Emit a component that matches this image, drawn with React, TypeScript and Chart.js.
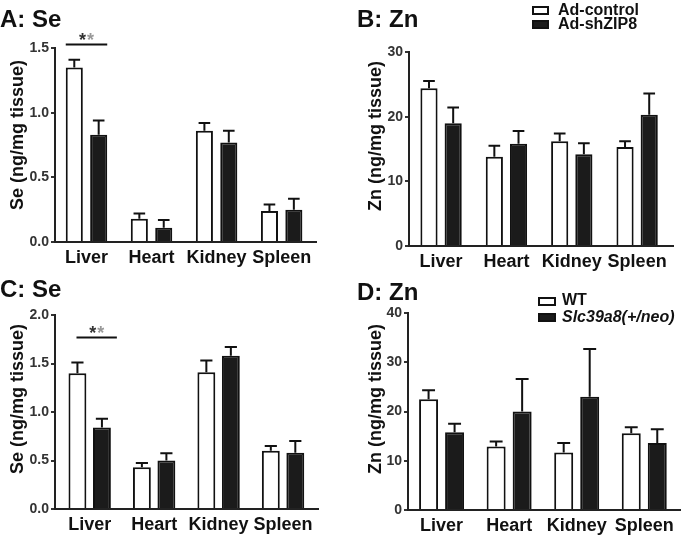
import React, { useEffect, useRef } from "react";
import { Chart, registerables } from "chart.js";

Chart.register(...registerables);

const FONT = "'Liberation Sans', Arial, Helvetica, sans-serif";

const categories = ["Liver", "Heart", "Kidney", "Spleen"];

// Panel A: Se, Ad-control vs Ad-shZIP8
const seAdControl = [1.35, 0.18, 0.86, 0.24];
const seAdControlSem = [0.06, 0.04, 0.06, 0.05];
const seAdShZip8 = [0.83, 0.11, 0.77, 0.25];
const seAdShZip8Sem = [0.11, 0.06, 0.09, 0.085];
const seTicksA = [0, 0.5, 1.0, 1.5];

// Panel B: Zn, Ad-control vs Ad-shZIP8
const znAdControl = [24.4, 13.8, 16.2, 15.3];
const znAdControlSem = [1.1, 1.7, 1.2, 0.9];
const znAdShZip8 = [19.0, 15.8, 14.2, 20.3];
const znAdShZip8Sem = [2.4, 2.0, 1.7, 3.3];
const znTicksB = [0, 10, 20, 30];

// Panel C: Se, WT vs Slc39a8(+/neo)
const seWT = [1.40, 0.43, 1.41, 0.60];
const seWTSem = [0.11, 0.045, 0.12, 0.05];
const seNeo = [0.84, 0.50, 1.58, 0.58];
const seNeoSem = [0.09, 0.075, 0.09, 0.12];
const seTicksC = [0, 0.5, 1.0, 1.5, 2.0];

// Panel D: Zn, WT vs Slc39a8(+/neo)
const znWT = [22.5, 12.9, 11.7, 15.6];
const znWTSem = [1.8, 1.0, 1.9, 1.2];
const znNeo = [15.8, 20.0, 23.0, 13.6];
const znNeoSem = [1.7, 6.6, 9.7, 2.8];
const znTicksD = [0, 10, 20, 30, 40];

// significance marks (value level of the bracket line)
const sigLevelA = 1.53;
const sigLevelC = 1.77;

type Series = { label: string; data: number[]; sem: number[]; fill: string };
type Panel = {
  key: string;
  left: number;
  top: number;
  width: number;
  height: number;
  area: { l: number; r: number; t: number; b: number };
  xMin: number;
  xMax: number;
  yTicks: number[];
  decimals: number;
  series: Series[];
  catPct: number;
  barPct: number;
  sig?: { level: number; startShift: number; endShift: number };
};

const WHITE = "#ffffff";
const BLACK = "#1b1b1b";

const panels: Panel[] = [
  {
    key: "A",
    left: 0, top: 0, width: 343, height: 276,
    area: { l: 55, r: 316, t: 48, b: 242 },
    xMin: -0.484, xMax: 3.528,
    yTicks: seTicksA, decimals: 1,
    series: [
      { label: "Ad-control", data: seAdControl, sem: seAdControlSem, fill: WHITE },
      { label: "Ad-shZIP8", data: seAdShZip8, sem: seAdShZip8Sem, fill: BLACK },
    ],
    catPct: 0.75, barPct: 0.7,
    sig: { level: sigLevelA, startShift: 0, endShift: 0 },
  },
  {
    key: "B",
    left: 343, top: 0, width: 344, height: 276,
    area: { l: 66, r: 330, t: 52, b: 246 },
    xMin: -0.491, xMax: 3.549,
    yTicks: znTicksB, decimals: 0,
    series: [
      { label: "Ad-control", data: znAdControl, sem: znAdControlSem, fill: WHITE },
      { label: "Ad-shZIP8", data: znAdShZip8, sem: znAdShZip8Sem, fill: BLACK },
    ],
    catPct: 0.74, barPct: 0.71,
  },
  {
    key: "C",
    left: 0, top: 268, width: 343, height: 269,
    area: { l: 55, r: 318, t: 47, b: 241 },
    xMin: -0.538, xMax: 3.542,
    yTicks: seTicksC, decimals: 1,
    series: [
      { label: "WT", data: seWT, sem: seWTSem, fill: WHITE },
      { label: "Slc39a8(+/neo)", data: seNeo, sem: seNeoSem, fill: BLACK },
    ],
    catPct: 0.76, barPct: 0.73,
    sig: { level: sigLevelC, startShift: 8, endShift: 6 },
  },
  {
    key: "D",
    left: 343, top: 268, width: 344, height: 269,
    area: { l: 65, r: 337, t: 45, b: 242 },
    xMin: -0.497, xMax: 3.529,
    yTicks: znTicksD, decimals: 0,
    series: [
      { label: "WT", data: znWT, sem: znWTSem, fill: WHITE },
      { label: "Slc39a8(+/neo)", data: znNeo, sem: znNeoSem, fill: BLACK },
    ],
    catPct: 0.77, barPct: 0.73,
  },
];

function BarPanel({ p }: { p: Panel }) {
  const ref = useRef<HTMLCanvasElement>(null);

  useEffect(() => {
    if (!ref.current) return;

    const overlay = {
      id: "errbars" + p.key,
      afterDatasetsDraw(chart: any) {
        const ctx = chart.ctx;
        const ys = chart.scales.y;
        ctx.save();
        ctx.strokeStyle = "#111";
        ctx.lineWidth = 2;
        ctx.lineCap = "butt";
        chart.data.datasets.forEach((_ds: any, di: number) => {
          const meta = chart.getDatasetMeta(di);
          meta.data.forEach((el: any, i: number) => {
            const { x, y, width } = el.getProps(["x", "y", "width"], true);
            const s = p.series[di];
            const top = ys.getPixelForValue(s.data[i] + s.sem[i]);
            const half = width * 0.34;
            ctx.beginPath();
            ctx.moveTo(x, y);
            ctx.lineTo(x, top);
            ctx.moveTo(x - half, top);
            ctx.lineTo(x + half, top);
            ctx.stroke();
          });
        });
        if (p.sig) {
          const a = chart.getDatasetMeta(0).data[0].getProps(["x", "width"], true);
          const b = chart.getDatasetMeta(1).data[0].getProps(["x", "width"], true);
          const x1 = a.x - a.width / 2 + p.sig.startShift;
          const x2 = b.x + b.width / 2 + p.sig.endShift;
          const ly = Math.round(ys.getPixelForValue(p.sig.level)) + 0.5;
          ctx.lineWidth = 2;
          ctx.strokeStyle = "#111";
          ctx.beginPath();
          ctx.moveTo(x1, ly);
          ctx.lineTo(x2, ly);
          ctx.stroke();
          const cx = (x1 + x2) / 2;
          ctx.font = `bold 18px ${FONT}`;
          ctx.textAlign = "center";
          ctx.textBaseline = "alphabetic";
          ctx.fillStyle = "#333";
          ctx.fillText("*", cx - 4, ly + 1);
          ctx.fillStyle = "#999";
          ctx.fillText("*", cx + 4, ly + 1);
        }
        ctx.restore();
      },
    };

    const chart = new Chart(ref.current, {
      type: "bar",
      data: {
        datasets: p.series.map((s) => ({
          label: s.label,
          data: s.data.map((v, i) => ({ x: i, y: v })),
          backgroundColor: s.fill,
          borderColor: "#111",
          borderWidth: 2,
          borderSkipped: "bottom",
          categoryPercentage: p.catPct,
          barPercentage: p.barPct,
        })),
      },
      options: {
        responsive: false,
        animation: false,
        devicePixelRatio: 1,
        layout: {
          padding: { top: p.area.t, right: p.width - p.area.r, left: 0, bottom: 0 },
        },
        plugins: {
          legend: { display: false },
          tooltip: { enabled: false },
          title: { display: false },
        },
        scales: {
          x: {
            type: "linear",
            min: p.xMin,
            max: p.xMax,
            offset: false,
            afterBuildTicks: (s: any) => {
              s.ticks = categories.map((_c, i) => ({ value: i }));
            },
            afterFit: (s: any) => {
              s.height = p.height - p.area.b;
            },
            ticks: {
              autoSkip: false,
              maxRotation: 0,
              padding: 5,
              color: "#111",
              font: { family: FONT, size: 18, weight: "bold" },
              callback: (v: any) => categories[Math.round(Number(v))] ?? "",
            },
            grid: { display: false, drawTicks: false, offset: false },
            border: { display: true, color: "#222", width: 2 },
          },
          y: {
            type: "linear",
            min: p.yTicks[0],
            max: p.yTicks[p.yTicks.length - 1],
            afterBuildTicks: (s: any) => {
              s.ticks = p.yTicks.map((v) => ({ value: v }));
            },
            afterFit: (s: any) => {
              s.width = p.area.l;
            },
            ticks: {
              padding: 2,
              color: "#333",
              font: { family: FONT, size: 14, weight: "bold" },
              callback: (v: any) => Number(v).toFixed(p.decimals),
            },
            grid: {
              drawOnChartArea: false,
              drawTicks: true,
              tickLength: 4,
              color: "#333",
              lineWidth: 2,
            },
            border: { display: true, color: "#222", width: 2 },
          },
        },
      },
      plugins: [overlay],
    } as any);

    return () => chart.destroy();
  }, [p]);

  return (
    <canvas
      ref={ref}
      width={p.width}
      height={p.height}
      style={{
        position: "absolute",
        left: p.left,
        top: p.top,
        width: p.width,
        height: p.height,
      }}
    />
  );
}

const textBase: React.CSSProperties = {
  position: "absolute",
  fontFamily: FONT,
  fontWeight: "bold",
  color: "#111",
  whiteSpace: "nowrap",
  margin: 0,
};

function Title({ text, left, top }: { text: string; left: number; top: number }) {
  return (
    <div style={{ ...textBase, left, top, fontSize: 24, lineHeight: "26px" }}>{text}</div>
  );
}

function YTitle({ text, cx, cy }: { text: string; cx: number; cy: number }) {
  return (
    <div
      style={{
        ...textBase,
        left: cx,
        top: cy,
        fontSize: 18,
        lineHeight: "20px",
        transform: "translate(-50%, -50%) rotate(-90deg)",
      }}
    >
      {text}
    </div>
  );
}

function LegendItem({
  left, boxTop, boxW, boxH, textLeft, textTop, fill, label, italic, size,
}: {
  left: number; boxTop: number; boxW: number; boxH: number; textLeft: number; textTop: number;
  fill: string; label: string; italic?: boolean; size: number;
}) {
  return (
    <>
      <div
        style={{
          position: "absolute",
          left,
          top: boxTop,
          width: boxW,
          height: boxH,
          boxSizing: "border-box",
          border: "2px solid #111",
          background: fill,
        }}
      />
      <div
        style={{
          ...textBase,
          left: textLeft,
          top: textTop,
          fontSize: size,
          lineHeight: "16px",
          fontStyle: italic ? "italic" : "normal",
        }}
      >
        {label}
      </div>
    </>
  );
}

export default function App() {
  return (
    <div
      style={{
        position: "absolute",
        left: 0,
        top: 0,
        width: 687,
        height: 537,
        background: "#fff",
        overflow: "hidden",
      }}
    >
      {panels.map((p) => (
        <BarPanel key={p.key} p={p} />
      ))}

      <Title text="A: Se" left={0} top={6} />
      <Title text="B: Zn" left={357} top={6} />
      <Title text="C: Se" left={0} top={276} />
      <Title text="D: Zn" left={357} top={279} />

      <YTitle text="Se (ng/mg tissue)" cx={17} cy={135} />
      <YTitle text="Zn (ng/mg tissue)" cx={375} cy={136} />
      <YTitle text="Se (ng/mg tissue)" cx={17} cy={399} />
      <YTitle text="Zn (ng/mg tissue)" cx={375} cy={399} />

      <LegendItem left={532} boxTop={6} boxW={17} boxH={9} textLeft={558} textTop={2}
        fill={WHITE} label="Ad-control" size={16} />
      <LegendItem left={532} boxTop={20} boxW={17} boxH={9} textLeft={558} textTop={16}
        fill={BLACK} label="Ad-shZIP8" size={16} />

      <LegendItem left={538} boxTop={297} boxW={18} boxH={9} textLeft={562} textTop={292}
        fill={WHITE} label="WT" size={16} />
      <LegendItem left={538} boxTop={313} boxW={18} boxH={9} textLeft={562} textTop={309}
        fill={BLACK} label="Slc39a8(+/neo)" italic size={16} />
    </div>
  );
}
